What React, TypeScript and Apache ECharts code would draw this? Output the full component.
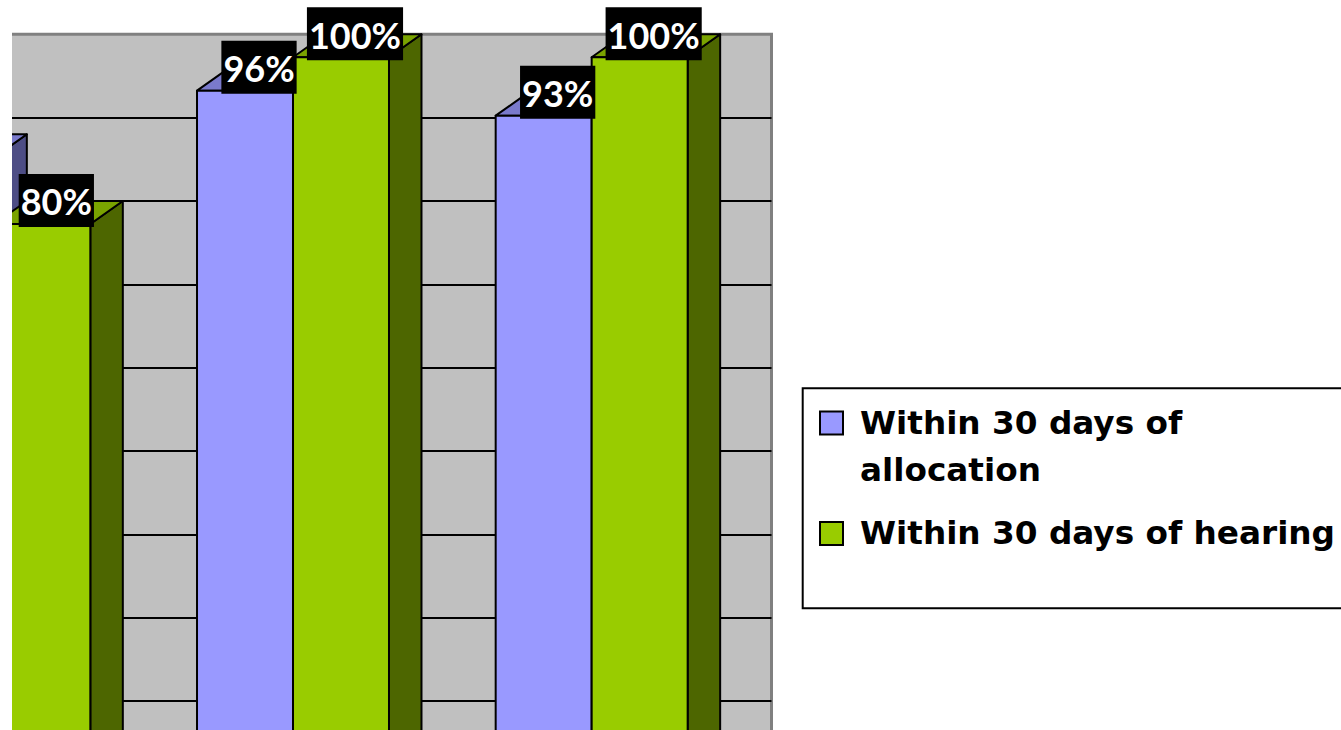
import React, { useEffect, useRef } from 'react';
import * as echarts from 'echarts';

const categories = ['Period 1', 'Period 2', 'Period 3'];
const seriesNames = ['Within 30 days of allocation', 'Within 30 days of hearing'];
const legendLabels = ['\nWithin 30 days of\nallocation', 'Within 30 days of hearing'];
const allocationValues = [88, 96, 93];
const hearingValues = [80, 100, 100];
const yMin = 0;
const yMax = 100;
const yInterval = 10;

const DX = 32.5;
const DY = 23;
const BAR_FRAC = 0.3214;
const CLIP_X = 12;

const purple = { front: '#9999FF', top: '#7A7ACC', side: '#4D4D85' };
const green = { front: '#99CC00', top: '#7AA300', side: '#4D6600' };

function makeRenderItem(side: 'left' | 'right', c: { front: string; top: string; side: string }) {
  return (params: any, api: any) => {
    const cat = api.value(0);
    const v = api.value(1);
    const pt = api.coord([cat, v]);
    const base = api.coord([cat, 0]);
    const band = api.size([1, 0])[0];
    const w = band * BAR_FRAC;
    const x0 = side === 'left' ? pt[0] - w : pt[0];
    const x1 = x0 + w;
    const yt = pt[1];
    const yb = base[1];
    const edge = { stroke: '#000', lineWidth: 2, lineJoin: 'round' };
    const labelX = (x0 + x1) / 2 + 14;
    const children: any[] = [
      {
        type: 'polygon',
        shape: { points: [[x1, yt], [x1 + DX, yt - DY], [x1 + DX, yb - DY], [x1, yb]] },
        style: { fill: c.side, ...edge },
      },
      {
        type: 'polygon',
        shape: { points: [[x0, yt], [x1, yt], [x1 + DX, yt - DY], [x0 + DX, yt - DY]] },
        style: { fill: c.top, ...edge },
      },
      {
        type: 'rect',
        shape: { x: x0, y: yt, width: w, height: yb - yt },
        style: { fill: c.front, ...edge },
      },
    ];
    // the label of a bar lying outside the visible (cropped) area is not shown
    if (labelX - 40 >= CLIP_X) {
      children.push({
        type: 'text',
        x: labelX,
        y: yt + 3,
        z2: 100,
        style: {
          text: v + '%',
          fill: '#fff',
          backgroundColor: '#000',
          padding: [6, 2, 4, 2],
          font: 'bold 36px Lato',
          lineHeight: 43,
          align: 'center',
          verticalAlign: 'bottom',
        },
      });
    }
    return { type: 'group', children };
  };
}

export default function App() {
  const ref = useRef<HTMLDivElement>(null);
  useEffect(() => {
    if (!ref.current) return;
    const chart = echarts.init(ref.current, null, { renderer: 'svg' });
    const frontLeft = -155;
    const frontWidth = 896;
    const frontTop = 57.3;
    const plotHeight = 833.3;
    const legendText = {
      fontFamily: 'DejaVu Sans',
      fontWeight: 'bold' as const,
      fontSize: 32.7,
      lineHeight: 47,
      color: '#000',
      padding: [0, 0, 0, 12],
    };
    chart.setOption({
      animation: false,
      grid: [
        {
          left: frontLeft,
          top: frontTop,
          width: frontWidth,
          height: plotHeight,
          show: false,
          outerBoundsMode: 'none',
        },
        {
          left: frontLeft + DX,
          top: frontTop - DY,
          width: 771.5 - (frontLeft + DX),
          height: plotHeight,
          show: true,
          backgroundColor: '#C0C0C0',
          borderColor: '#808080',
          borderWidth: 3,
          outerBoundsMode: 'none',
        },
      ],
      xAxis: [
        { type: 'category', data: categories, gridIndex: 0, show: false },
        { type: 'category', data: categories, gridIndex: 1, show: false },
      ],
      yAxis: [
        { type: 'value', min: yMin, max: yMax, interval: yInterval, gridIndex: 0, show: false },
        {
          type: 'value',
          min: yMin,
          max: yMax,
          interval: yInterval,
          gridIndex: 1,
          axisLabel: { show: false },
          axisLine: { show: false },
          axisTick: { show: false },
          splitLine: { show: true, showMaxLine: false, lineStyle: { color: '#000', width: 2 } },
        },
      ],
      legend: [
        {
          data: [
            {
              name: seriesNames[0],
              icon: 'rect',
              itemStyle: { color: purple.front, borderColor: '#000', borderWidth: 2 },
            },
          ],
          orient: 'vertical',
          left: 819,
          top: 423 - 70.5,
          padding: 0,
          itemWidth: 23,
          itemHeight: 23,
          selectedMode: false,
          formatter: () => legendLabels[0],
          textStyle: legendText,
        },
        {
          data: [
            {
              name: seriesNames[1],
              icon: 'rect',
              itemStyle: { color: green.front, borderColor: '#000', borderWidth: 2 },
            },
          ],
          orient: 'vertical',
          left: 819,
          top: 533.4 - 23.5,
          padding: 0,
          itemWidth: 23,
          itemHeight: 23,
          selectedMode: false,
          formatter: () => legendLabels[1],
          textStyle: legendText,
        },
      ],
      graphic: [
        {
          type: 'rect',
          z: 0,
          shape: { x: 802.7, y: 388.3, width: 620, height: 220 },
          style: { fill: 'none', stroke: '#000', lineWidth: 2 },
        },
        {
          type: 'rect',
          z: 100,
          shape: { x: 0, y: 0, width: CLIP_X, height: 730 },
          style: { fill: '#fff' },
        },
      ],
      series: [
        {
          name: seriesNames[0],
          type: 'custom',
          xAxisIndex: 0,
          yAxisIndex: 0,
          renderItem: makeRenderItem('left', purple),
          itemStyle: { color: purple.front },
          data: allocationValues.map((v, i) => [i, v]),
          encode: { x: 0, y: 1 },
        },
        {
          name: seriesNames[1],
          type: 'custom',
          xAxisIndex: 0,
          yAxisIndex: 0,
          renderItem: makeRenderItem('right', green),
          itemStyle: { color: green.front },
          data: hearingValues.map((v, i) => [i, v]),
          encode: { x: 0, y: 1 },
        },
      ],
    });
    return () => chart.dispose();
  }, []);
  return (
    <div
      ref={ref}
      style={{ position: 'fixed', left: 0, top: 0, width: 1341, height: 730, background: '#fff' }}
    />
  );
}
